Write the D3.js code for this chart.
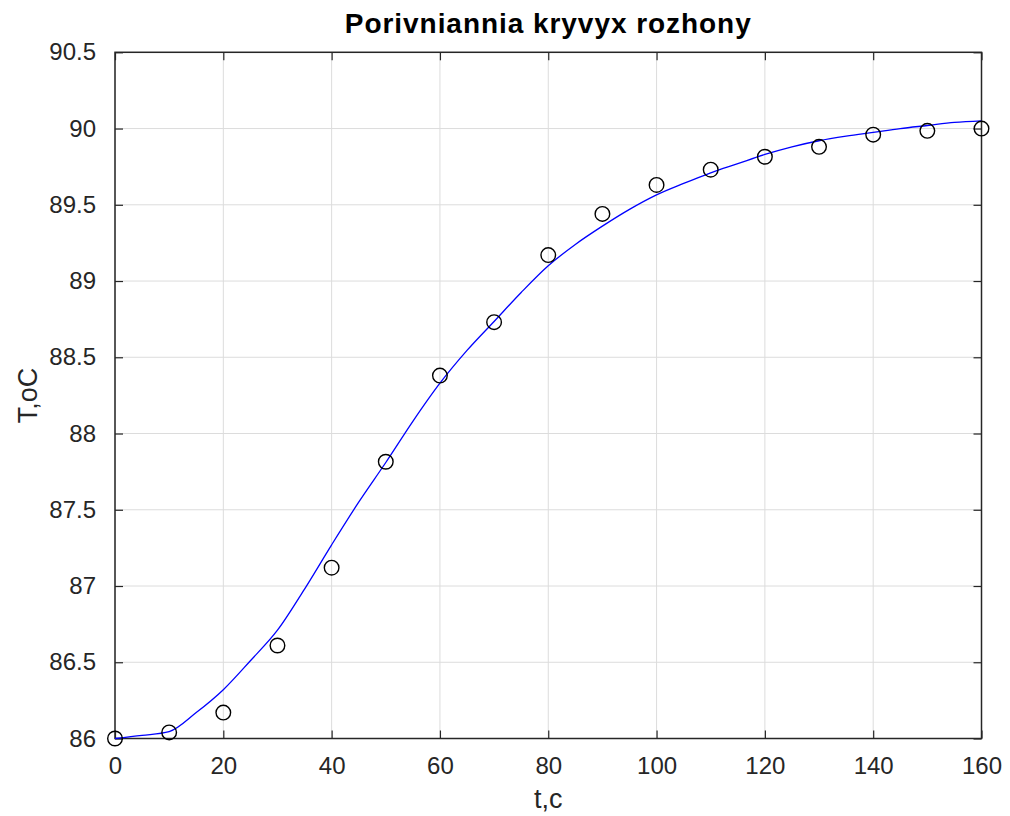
<!DOCTYPE html>
<html>
<head>
<meta charset="utf-8">
<script src="https://cdn.jsdelivr.net/npm/d3@7"></script>
<style>
  html, body { margin: 0; padding: 0; background: #fff; }
  svg { display: block; font-family: "Liberation Sans", Arial, Helvetica, sans-serif; }
</style>
</head>
<body>
<svg id="chart" width="1010" height="816"></svg>
<script>
// Measured temperature (circles), sampled every 10 s
const measTime = [0, 10, 20, 30, 40, 50, 60, 70, 80, 90, 100, 110, 120, 130, 140, 150, 160];
const measTemp = [86.00, 86.04, 86.17, 86.61, 87.12, 87.815, 88.38, 88.73, 89.17, 89.44, 89.63, 89.73, 89.815, 89.88, 89.96, 89.985, 90.00];

// Model response (blue line), sampled every 5 s
const modelTime = [0, 5, 10, 15, 20, 25, 30, 35, 40, 45, 50, 55, 60, 65, 70, 75, 80, 85, 90, 95, 100, 105, 110, 115, 120, 125, 130, 135, 140, 145, 150, 155, 160];
const modelTemp = [86.00, 86.02, 86.045, 86.17, 86.32, 86.51, 86.71, 86.98, 87.27, 87.55, 87.81, 88.08, 88.33, 88.545, 88.735, 88.925, 89.10, 89.24, 89.36, 89.47, 89.565, 89.64, 89.71, 89.77, 89.83, 89.88, 89.92, 89.95, 89.975, 90.0, 90.02, 90.04, 90.05];

const xTicks = [0, 20, 40, 60, 80, 100, 120, 140, 160];
const yTicks = [86, 86.5, 87, 87.5, 88, 88.5, 89, 89.5, 90, 90.5];

const titleText = "Porivniannia kryvyx rozhony";
const xLabelText = "t,c";
const yLabelText = "T,oC";

const svg = d3.select("#chart");
const plot = { left: 115, right: 981.5, top: 52.3, bottom: 738.5 };

const x = d3.scaleLinear().domain([0, 160]).range([plot.left, plot.right]);
const y = d3.scaleLinear().domain([86, 90.5]).range([plot.bottom, plot.top]);

const axisColor = "#262626";
const gridColor = "#dcdcdc";

// grid
const grid = svg.append("g");
grid.selectAll("line.gx").data(xTicks).join("line")
  .attr("x1", d => x(d)).attr("x2", d => x(d))
  .attr("y1", plot.top).attr("y2", plot.bottom)
  .attr("stroke", gridColor).attr("stroke-width", 1);
grid.selectAll("line.gy").data(yTicks).join("line")
  .attr("x1", plot.left).attr("x2", plot.right)
  .attr("y1", d => y(d)).attr("y2", d => y(d))
  .attr("stroke", gridColor).attr("stroke-width", 1);

// axes with inward ticks on all four sides
const tickLen = 8;
const fmt = d => String(d);
const axisStyle = g => {
  g.select(".domain").remove();
  g.selectAll(".tick line").attr("stroke", axisColor).attr("stroke-width", 1.2);
  g.selectAll(".tick text").attr("fill", axisColor).attr("font-size", 24)
    .attr("font-family", "'Liberation Sans', Arial, sans-serif");
};

svg.append("g").attr("transform", `translate(0,${plot.bottom})`)
  .call(d3.axisBottom(x).tickValues(xTicks).tickFormat(fmt).tickSizeInner(-tickLen).tickSizeOuter(0).tickPadding(18))
  .call(axisStyle);
svg.append("g").attr("transform", `translate(0,${plot.top})`)
  .call(d3.axisTop(x).tickValues(xTicks).tickFormat("").tickSizeInner(-tickLen).tickSizeOuter(0))
  .call(axisStyle);
svg.append("g").attr("transform", `translate(${plot.left},0)`)
  .call(d3.axisLeft(y).tickValues(yTicks).tickFormat(fmt).tickSizeInner(-tickLen).tickSizeOuter(0).tickPadding(19))
  .call(axisStyle);
svg.append("g").attr("transform", `translate(${plot.right},0)`)
  .call(d3.axisRight(y).tickValues(yTicks).tickFormat("").tickSizeInner(-tickLen).tickSizeOuter(0))
  .call(axisStyle);

// box
svg.append("rect")
  .attr("x", plot.left).attr("y", plot.top)
  .attr("width", plot.right - plot.left).attr("height", plot.bottom - plot.top)
  .attr("fill", "none").attr("stroke", axisColor).attr("stroke-width", 1.5);

// model curve
const line = d3.line().curve(d3.curveMonotoneX)
  .x((d, i) => x(modelTime[i])).y(d => y(d));
svg.append("path").datum(modelTemp)
  .attr("d", line)
  .attr("fill", "none").attr("stroke", "#0000ff").attr("stroke-width", 1.3);

// measured points
svg.append("g").selectAll("circle").data(measTemp).join("circle")
  .attr("cx", (d, i) => x(measTime[i]))
  .attr("cy", d => y(d))
  .attr("r", 7.3)
  .attr("fill", "none").attr("stroke", "#000").attr("stroke-width", 1.4);

// title and axis labels
svg.append("text")
  .attr("x", (plot.left + plot.right) / 2).attr("y", 33)
  .attr("text-anchor", "middle").attr("font-size", 28).attr("font-weight", "bold")
  .attr("letter-spacing", 0.95)
  .attr("fill", "#000").text(titleText);

svg.append("text")
  .attr("x", (plot.left + plot.right) / 2).attr("y", 808)
  .attr("text-anchor", "middle").attr("font-size", 27)
  .attr("fill", axisColor).text(xLabelText);

svg.append("text")
  .attr("transform", `translate(37,${(plot.top + plot.bottom) / 2}) rotate(-90)`)
  .attr("text-anchor", "middle").attr("font-size", 27)
  .attr("fill", axisColor).text(yLabelText);
</script>
</body>
</html>
